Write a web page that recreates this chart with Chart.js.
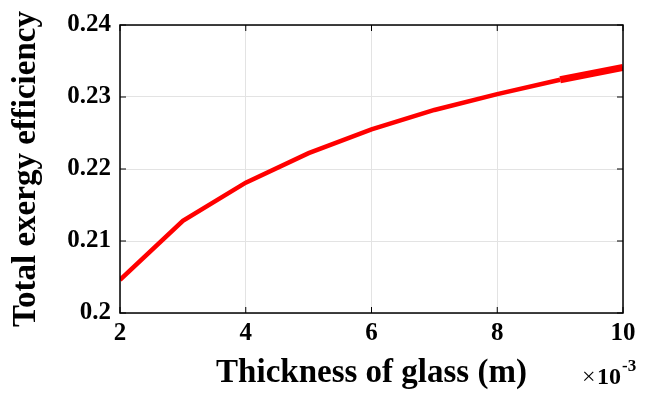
<!DOCTYPE html>
<html>
<head>
<meta charset="utf-8">
<script src="https://cdn.jsdelivr.net/npm/chart.js@4"></script>
<style>
  html, body { margin: 0; padding: 0; background: #fff; }
  #wrap { width: 648px; height: 396px; }
</style>
</head>
<body>
<div id="wrap"><canvas id="chart" width="648" height="396"></canvas></div>
<script>
// glass thickness (x 10^-3 m) and total exergy efficiency
const thickness = [2, 3, 4, 5, 6, 7, 8, 9, 10];
const efficiency = [0.2046, 0.2128, 0.2181, 0.2222, 0.2255, 0.2282, 0.2304, 0.2324, 0.2341];
const yTicks = [0.2, 0.21, 0.22, 0.23, 0.24];
const xTicks = [2, 4, 6, 8, 10];

const serif = '"Liberation Serif", "Times New Roman", serif';

// frame around the plot plus inward tick marks, and the x10^-3 multiplier
const framePlugin = {
    id: 'frame',
    afterDraw(chart) {
        const { ctx, chartArea: a, scales } = chart;
        ctx.save();
        ctx.strokeStyle = '#000';
        ctx.lineWidth = 1.5;
        ctx.strokeRect(a.left, a.top, a.right - a.left, a.bottom - a.top);
        ctx.lineWidth = 1;
        yTicks.forEach(v => {
            const y = scales.y.getPixelForValue(v);
            ctx.beginPath();
            ctx.moveTo(a.left, y); ctx.lineTo(a.left + 6, y);
            ctx.moveTo(a.right, y); ctx.lineTo(a.right - 6, y);
            ctx.stroke();
        });
        xTicks.forEach(v => {
            const x = scales.x.getPixelForValue(v);
            ctx.beginPath();
            ctx.moveTo(x, a.bottom); ctx.lineTo(x, a.bottom - 6);
            ctx.moveTo(x, a.top); ctx.lineTo(x, a.top + 6);
            ctx.stroke();
        });
        ctx.fillStyle = '#000';
        ctx.textBaseline = 'alphabetic';
        ctx.font = '24px ' + serif;
        ctx.fillText('\u00d7', 582, 384);
        ctx.font = 'bold 24px ' + serif;
        ctx.fillText('10', 597, 384);
        ctx.font = 'bold 17px ' + serif;
        ctx.fillText('-3', 622, 371);
        ctx.restore();
    }
};

new Chart(document.getElementById('chart'), {
    type: 'line',
    data: {
        datasets: [{
            data: thickness.map((t, i) => ({ x: t, y: efficiency[i] })),
            borderColor: '#ff0000',
            borderWidth: 4.5,
            pointRadius: 0,
            tension: 0,
            segment: {
                borderWidth: c => (c.p0.parsed.x >= 9 ? 7 : 4.5)
            }
        }]
    },
    options: {
        responsive: false,
        animation: false,
        layout: { padding: { top: 25, right: 25, left: 0, bottom: 0 } },
        plugins: { legend: { display: false }, tooltip: { enabled: false } },
        scales: {
            x: {
                type: 'linear',
                min: 2,
                max: 10,
                afterBuildTicks: s => { s.ticks = xTicks.map(v => ({ value: v })); },
                afterFit: s => { s.height = 83; },
                grid: { color: '#e3e3e3', drawTicks: false, lineWidth: 1 },
                border: { display: false },
                ticks: {
                    color: '#000',
                    padding: 6,
                    font: { family: serif, size: 25, weight: 'bold' }
                },
                title: {
                    display: true,
                    text: 'Thickness of glass (m)',
                    color: '#000',
                    padding: { top: 0, bottom: 3 },
                    font: { family: serif, size: 33, weight: 'bold' }
                }
            },
            y: {
                min: 0.2,
                max: 0.24,
                afterBuildTicks: s => { s.ticks = yTicks.map(v => ({ value: v })); },
                afterFit: s => { s.width = 120; },
                grid: { color: '#e3e3e3', drawTicks: false, lineWidth: 1 },
                border: { display: false },
                ticks: {
                    color: '#000',
                    padding: 9,
                    font: { family: serif, size: 25, weight: 'bold' },
                    callback: v => String(+v.toFixed(2))
                },
                title: {
                    display: true,
                    text: 'Total exergy efficiency',
                    color: '#000',
                    padding: { top: 7, bottom: 0 },
                    font: { family: serif, size: 33, weight: 'bold' }
                }
            }
        }
    },
    plugins: [framePlugin]
});
</script>
</body>
</html>
